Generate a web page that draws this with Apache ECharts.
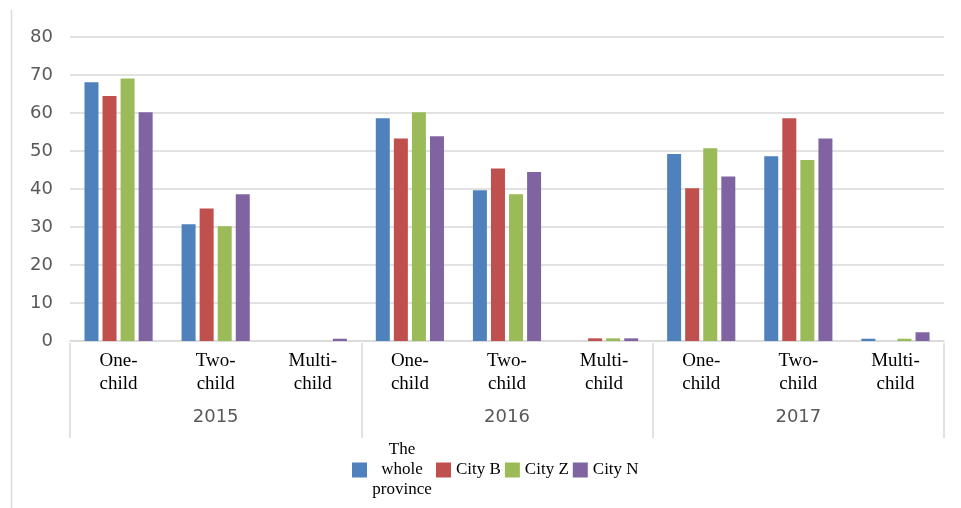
<!DOCTYPE html>
<html>
<head>
<meta charset="utf-8">
<script src="https://cdn.jsdelivr.net/npm/echarts@6/dist/echarts.min.js"></script>
<style>html,body{margin:0;padding:0;background:#fff}#c{width:961px;height:508px}</style>
</head>
<body>
<div id="c"></div>
<script>
const categories = ['One-\nchild','Two-\nchild','Multi-\nchild','One-\nchild','Two-\nchild','Multi-\nchild','One-\nchild','Two-\nchild','Multi-\nchild'];
const years = ['2015','2016','2017'];
const seriesNames = ['The whole province','City B','City Z','City N'];
const province = [68.1, 30.7, 0, 58.6, 39.7, 0, 49.2, 48.6, 0.6];
const cityB    = [64.5, 34.9, 0, 53.3, 45.4, 0.7, 40.2, 58.6, 0];
const cityZ    = [69.1, 30.2, 0, 60.2, 38.6, 0.7, 50.7, 47.6, 0.6];
const cityN    = [60.2, 38.6, 0.6, 53.9, 44.5, 0.7, 43.3, 53.3, 2.3];
const yTicks = {min: 0, max: 80, interval: 10};
const colors = ['#4f81bd','#c0504d','#9bbb59','#8064a2'];

const chart = echarts.init(document.getElementById('c'));
const values = [province, cityB, cityZ, cityN];
chart.setOption({
  animation: false,
  color: colors,
  grid: {left: 70, right: 17, top: 37, bottom: 167},
  graphic: [{type: 'line', shape: {x1: 11.5, y1: 10, x2: 11.5, y2: 508}, style: {stroke: '#d9d9d9', lineWidth: 1.5}}],
  legend: {
    left: 352, top: 440, padding: 0,
    itemWidth: 15, itemHeight: 15, itemGap: 4,
    icon: 'rect',
    data: seriesNames,
    textStyle: {fontFamily: 'Liberation Serif', fontSize: 17, color: '#000', lineHeight: 20,
      rich: {c: {width: 60, align: 'center', fontFamily: 'Liberation Serif', fontSize: 17, lineHeight: 20, color: '#000'}}},
    formatter: function (n) {
      if (n.split(' ').length > 2) return n.split(' ').map(w => '{c|' + w + '}').join('\n');
      return n;
    }
  },
  xAxis: [{
    type: 'category', data: categories, position: 'bottom', offset: 2,
    axisLine: {lineStyle: {color: '#d9d9d9', width: 1.5}},
    axisTick: {show: false},
    axisLabel: {interval: 0, margin: 7, fontFamily: 'Liberation Serif', fontSize: 19, lineHeight: 23, color: '#000'}
  }, {
    type: 'category', data: years, position: 'bottom', offset: 97,
    axisLine: {show: false},
    axisTick: {show: true, inside: true, length: 95, interval: 0, lineStyle: {color: '#d9d9d9', width: 1.5}},
    axisLabel: {inside: true, margin: 12, fontFamily: 'DejaVu Sans', fontSize: 18, color: '#595959'}
  }],
  yAxis: {
    type: 'value', min: yTicks.min, max: yTicks.max, interval: yTicks.interval,
    axisLine: {show: false}, axisTick: {show: false},
    axisLabel: {margin: 17, fontFamily: 'DejaVu Sans', fontSize: 18, color: '#595959'},
    splitLine: {lineStyle: {color: '#d9d9d9', width: 1.5}}
  },
  series: seriesNames.map((n, i) => ({
    name: n, type: 'bar', data: values[i], barWidth: 14, barGap: '29%',
    itemStyle: {color: colors[i]}
  }))
});
</script>
</body>
</html>
